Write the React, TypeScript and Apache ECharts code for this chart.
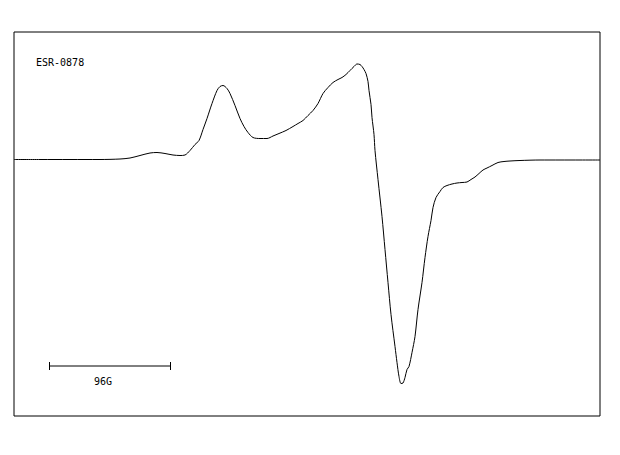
import React, { useEffect, useRef } from "react";
import * as echarts from "echarts";

// Field position (px-scale units) and derivative signal amplitude
const fieldPos = [
  14, 40, 70, 100, 120, 130, 140, 150, 157, 165, 173, 180, 185, 190, 195, 199, 203, 207, 212, 217, 220, 223, 227, 230,
  235, 240, 244, 248, 253, 260, 267, 273, 279, 286, 293, 298, 303, 308, 313, 318, 323, 328, 333, 338, 342, 346, 350,
  354, 357, 360, 362, 364, 366, 368, 369, 371, 372, 374, 375, 378, 382, 385, 388, 391, 395, 397, 399, 401, 403, 405,
  407, 409, 412, 415, 418, 422, 425, 428, 431, 433, 436, 440, 443, 447, 452, 457, 462, 467, 471, 475, 479, 483, 487,
  492, 498, 504, 510, 520, 540, 560, 580, 600,
];
const signal = [
  0, 0, 0, 0, 0.5, 1.5, 4, 6.5, 7, 6, 4.5, 4, 4.5, 9, 15, 19, 30, 41, 56, 69, 73, 74, 71, 66,
  54, 41, 33, 27, 22, 21, 21, 23.5, 26, 29, 33, 36, 39, 44, 49, 56, 66, 72, 77, 80, 82, 85, 89,
  93, 95.5, 95, 93, 90, 86, 78, 69, 55, 42, 25, 9, -20, -57, -90, -123, -155, -187, -203, -217, -224, -223.5, -218,
  -210, -207, -193, -177, -150, -123, -98, -77, -61, -48, -38, -32, -28, -26, -24.5, -23.5, -23, -22.5, -20, -17.5, -14, -10.5, -8.5,
  -6, -3, -2, -1.5, -1, -0.5, -0.5, -0.5, -0.5,
];

const labelText = "ESR-0878";
const scaleBarText = "96G";

export default function App() {
  const ref = useRef<HTMLDivElement>(null);
  useEffect(() => {
    if (!ref.current) return;
    const chart = echarts.init(ref.current, undefined, { renderer: "svg" });
    const data = fieldPos.map((x, i) => [x, signal[i]]);
    chart.setOption({
      animation: false,
      backgroundColor: "#fff",
      grid: {
        left: 14,
        top: 32,
        width: 586,
        height: 384,
        show: true,
        borderColor: "#000",
        borderWidth: 1,
        backgroundColor: "transparent",
      },
      xAxis: { type: "value", min: 14, max: 600, show: false },
      yAxis: { type: "value", min: -256.5, max: 127.5, show: false },
      series: [
        {
          type: "line",
          data,
          showSymbol: false,
          smooth: 0.3,
          lineStyle: { color: "#000", width: 1 },
        },
      ],
      graphic: [
        {
          type: "text",
          left: 36,
          top: 57,
          style: { text: labelText, fontFamily: "DejaVu Sans Mono", fontSize: 10, fill: "#000" },
        },
        {
          type: "line",
          shape: { x1: 49.5, y1: 366, x2: 170.5, y2: 366 },
          style: { stroke: "#000", lineWidth: 1 },
        },
        {
          type: "line",
          shape: { x1: 49.5, y1: 362, x2: 49.5, y2: 370 },
          style: { stroke: "#000", lineWidth: 1 },
        },
        {
          type: "line",
          shape: { x1: 170.5, y1: 362, x2: 170.5, y2: 370 },
          style: { stroke: "#000", lineWidth: 1 },
        },
        {
          type: "text",
          left: 94,
          top: 376,
          style: { text: scaleBarText, fontFamily: "DejaVu Sans Mono", fontSize: 10, fill: "#000" },
        },
      ],
    });
    return () => chart.dispose();
  }, []);
  return (
    <div
      ref={ref}
      style={{ position: "absolute", left: 0, top: 0, width: 620, height: 455, background: "#fff" }}
    />
  );
}
